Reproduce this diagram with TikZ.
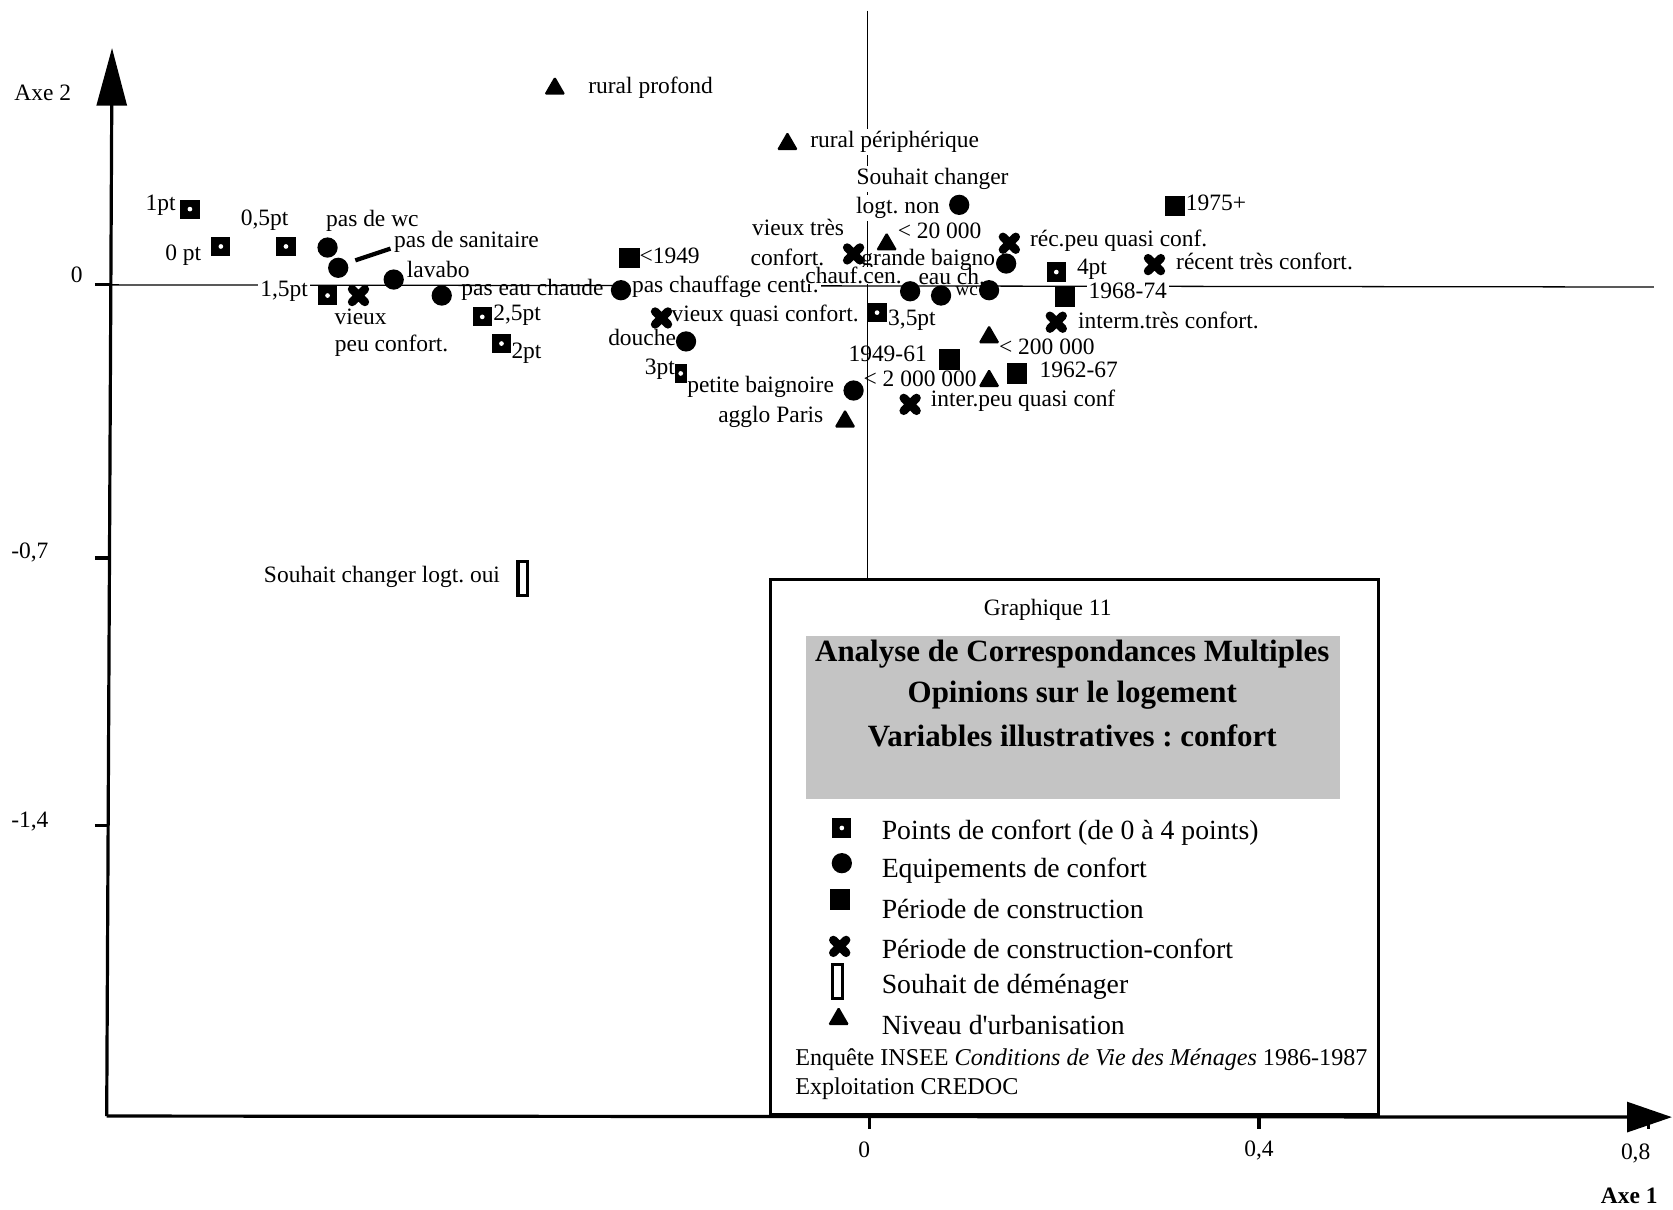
\documentclass[tikz,border=0pt]{standalone}
\usepackage{fontspec}
\setmainfont{Liberation Serif}
\usetikzlibrary{arrows.meta,shapes.geometric}
\frenchspacing
\newcommand\xmk[2]{\node[xnode] (#1) at (#2) {};
  \draw[xline] (#1.north west) -- (#1.south east) (#1.north east) -- (#1.south west);}
\begin{document}
\begin{tikzpicture}[x=0.5pt,y=-0.5pt,
  lab/.style={font=\fontsize{11}{12}\selectfont, inner sep=0pt},
  wlab/.style={lab, fill=white, inner sep=1pt},
  smalllab/.style={font=\fontsize{9}{10}\selectfont, inner sep=0pt},
  leg/.style={font=\fontsize{13}{15}\selectfont, inner sep=0pt, anchor=west},
  ttl/.style={font=\bfseries\fontsize{14.5}{16}\selectfont, inner sep=0pt},
  foot/.style={font=\fontsize{11.3}{13}\selectfont, inner sep=0pt, anchor=west},
  axisline/.style={line width=1.5pt},
  thinline/.style={line width=0.6pt},
  dsq/.style={rectangle, fill=black, minimum size=9pt, inner sep=0pt,
     path picture={\fill[white] (path picture bounding box.center) circle (1.1pt);}},
  fsq/.style={rectangle, fill=black, minimum size=9.5pt, inner sep=0pt},
  dot/.style={circle, fill=black, minimum size=9.5pt, inner sep=0pt},
  tri/.style={regular polygon, regular polygon sides=3, fill=black, minimum size=11.5pt, inner sep=0pt, rounded corners=0.8pt},
  orect/.style={rectangle, draw=black, line width=1.6pt, minimum width=4.5pt, minimum height=16pt, inner sep=0pt},
  xnode/.style={rectangle, minimum size=5.6pt, inner sep=0pt},
  xline/.style={line width=4pt, line cap=round},
  legbox/.style={draw=black, line width=1.5pt, fill=white, minimum width=285pt, minimum height=251pt, inner sep=0pt},
  ttlbg/.style={fill=black!23, minimum width=250.5pt, minimum height=76.5pt, inner sep=0pt}
]
\useasboundingbox (0,0) rectangle (1568,1134);

% thin crosshair
\coordinate (hL) at (104,267); \coordinate (hR) at (1550,269);
\coordinate (vT) at (813,10); \coordinate (vB) at (813,543);
\draw[thinline] (hL) -- (hR);
\draw[thinline] (vT) -- (vB);

% legend box
\node[legbox] (box) at (1007,794) {};
\node[ttlbg] (tbg) at (1005.5,672.5) {};
\node[lab] (g11) at (982,572) {Graphique 11};
\node[ttl] (t1) at (1005,613) {Analyse de Correspondances Multiples};
\node[ttl] (t2) at (1005,652) {Opinions sur le logement};
\node[ttl] (t3) at (1005,690) {Variables illustratives : confort};

\node[dsq] (k1) at (789,776) {};
\node[dot] (k2) at (789,809) {};
\node[fsq] (k3) at (787,843) {};
\xmk{k4}{787,887}
\node[orect] (k5) at (785,920) {};
\node[tri] (k6) at (786,955) {};
\node[leg] (k1t) at (826,780) {Points de confort (de 0 à 4 points)};
\node[leg] (k2t) at (826,816) {Equipements de confort};
\node[leg] (k3t) at (826,852) {Période de construction};
\node[leg] (k4t) at (826,889) {Période de construction-confort};
\node[leg] (k5t) at (826,925) {Souhait de déménager};
\node[leg] (k6t) at (826,961) {Niveau d\textquotesingle urbanisation};
\node[foot] (f1) at (745,993) {Enquête INSEE \textit{Conditions de Vie des Ménages} 1986-1987};
\node[foot] (f2) at (745,1020) {Exploitation CREDOC};

% axes
\coordinate (O) at (100,1046);
\coordinate (Ytip) at (105,45);
\coordinate (Xtip) at (1567,1047);
\draw[axisline, -{Triangle[length=27pt,width=14pt]}] (O) -- (Ytip);
\draw[axisline, -{Triangle[length=21pt,width=14pt]}] (O) -- (Xtip);
\draw[axisline] (89,267) -- (103,267);
\draw[axisline] (89,523) -- (102,523);
\draw[axisline] (89,774) -- (101,774);
\draw[axisline] (815,1046) -- (815,1058);
\draw[axisline] (1180,1046) -- (1180,1058);
\draw[axisline] (1545,1046) -- (1545,1058);
\node[lab] (y0) at (72,258) {0};
\node[lab] (y07) at (28,518) {-0,7};
\node[lab] (y14) at (28,770) {-1,4};
\node[lab] (ax2) at (40,87) {Axe 2};
\node[lab] (x0) at (810,1078) {0};
\node[lab] (x04) at (1180,1078) {0,4};
\node[lab] (x08) at (1533,1081) {0,8};
\node[lab, font=\bfseries\fontsize{11}{12}\selectfont] (ax1) at (1527,1121) {Axe 1};

% labels: points de confort
\node[lab, anchor=east] (l1pt) at (165,192) {1pt};
\node[lab, anchor=east] (l0pt) at (189,239) {0 pt};
\node[lab] (l05pt) at (248,206) {0,5pt};
\node[wlab, anchor=east] (l15pt) at (291,273) {1,5pt};
\node[lab, anchor=west] (l25pt) at (462,295) {2,5pt};
\node[lab, anchor=west] (l2pt) at (479,331) {2pt};
\node[lab, anchor=east] (l3pt) at (633,346) {3pt};
\node[lab, anchor=west] (l35pt) at (832,300) {3,5pt};
\node[lab, anchor=west] (l4pt) at (1009,252) {4pt};

% labels: equipements
\node[lab] (lwc0) at (349,207) {pas de wc};
\node[lab, anchor=west] (lsan) at (369,227) {pas de sanitaire};
\node[lab, anchor=west] (llav) at (381,253) {lavabo};
\node[lab, anchor=west] (leauc) at (432,272) {pas eau chaude};
\node[wlab, anchor=west] (lchauf) at (590,269) {pas chauffage centr.};
\node[lab, anchor=east] (ldouche) at (634,316) {douche};
\node[lab, anchor=east] (lpetb) at (782,363) {petite baignoire};
\node[wlab] (lsouh1) at (874,168) {Souhait changer};
\node[wlab, anchor=west] (lsouh2) at (800,195) {logt. non};
\node[lab, anchor=west] (lgrb) at (807,244) {grande baigno};
\node[lab, fill=white] (lccen) at (800,258) {chauf.cen.};
\node[lab] (leauch) at (892,259) {eau ch.};
\node[smalllab] (lwc) at (906,273) {wc};

% labels: periode
\node[lab, anchor=west] (l1949) at (599,240) {<1949};
\node[lab, anchor=west] (l1975) at (1111,190) {1975+};
\node[wlab, anchor=west] (l1968) at (1018,273) {1968-74};
\node[lab, anchor=east] (l1961) at (869,332) {1949-61};
\node[lab, anchor=west] (l1962) at (974,347) {1962-67};

% labels: periode-confort
\node[lab] (lvp1) at (338,297) {vieux};
\node[lab] (lvp2) at (367,324) {peu confort.};
\node[lab, anchor=west] (lvq) at (629,296) {vieux quasi confort.};
\node[lab] (lvt1) at (748,213) {vieux très};
\node[lab] (lvt2) at (738,241) {confort.};
\node[lab, anchor=west] (lrpq) at (965,226) {réc.peu quasi conf.};
\node[lab, anchor=west] (lrtc) at (1102,245) {récent très confort.};
\node[lab, anchor=west] (litc) at (1010,300) {interm.très confort.};
\node[lab, anchor=west] (lipq) at (872,376) {inter.peu quasi conf};

% labels: souhait / urbanisation
\node[lab, anchor=east] (loui) at (469,541) {Souhait changer logt. oui};
\node[lab, anchor=west] (lrprof) at (551,82) {rural profond};
\node[wlab, anchor=west] (lrper) at (757,133) {rural périphérique};
\node[lab, anchor=west] (l20k) at (841,216) {< 20 000};
\node[lab, anchor=west] (l200k) at (936,325) {< 200 000};
\node[lab, anchor=west] (l2m) at (809,355) {< 2 000 000};
\node[lab, anchor=east] (lagglo) at (772,391) {agglo Paris};

% connector pas de sanitaire
\coordinate (sanA) at (333,244);
\coordinate (sanB) at (366,233);
\draw[line width=2pt] (sanA) -- (sanB);

% markers: points de confort
\node[dsq] (m1pt) at (178,196) {};
\node[dsq] (m0pt) at (207,231) {};
\node[dsq] (m05pt) at (268,231) {};
\node[dsq] (m15pt) at (307,277) {};
\node[dsq] (m25pt) at (452,297) {};
\node[dsq] (m2pt) at (470,322) {};
\node[dsq, minimum width=5.5pt, minimum height=9pt] (m3pt) at (638,350) {};
\node[dsq] (m35pt) at (822,293) {};
\node[dsq] (m4pt) at (990,255) {};

% markers: equipements
\node[dot] (mwc0) at (307,232) {};
\node[dot] (msan) at (317,251) {};
\node[dot] (mlav) at (369,262) {};
\node[dot] (meauc) at (414,277) {};
\node[dot] (mchauf) at (582,272) {};
\node[dot] (mdouche) at (643,320) {};
\node[dot] (mpetb) at (800,366) {};
\node[dot] (msouh) at (899,192) {};
\node[dot] (mgrb) at (943,247) {};
\node[dot] (mccen) at (853,273) {};
\node[dot] (meauch) at (882,277) {};
\node[dot] (mwc) at (927,272) {};

% markers: periode
\node[fsq] (m1949) at (590,242) {};
\node[fsq] (m1975) at (1101,193) {};
\node[fsq] (m1968) at (998,278) {};
\node[fsq] (m1961) at (890,337) {};
\node[fsq] (m1962) at (953,350) {};

% markers: periode-confort
\xmk{mvp}{336,277}
\xmk{mvq}{620,298}
\xmk{mvt}{800,238}
\xmk{mrpq}{946,228}
\xmk{mrtc}{1082,248}
\xmk{mitc}{990,302}
\xmk{mipq}{853,379}

% markers: souhait / urbanisation
\node[orect] (moui) at (490,542) {};
\node[tri] (mrprof) at (520,83) {};
\node[tri] (mrper) at (738,135) {};
\node[tri] (m20k) at (831,229) {};
\node[tri] (m200k) at (927,316) {};
\node[tri] (m2m) at (927,357) {};
\node[tri] (magglo) at (792,395) {};
\end{tikzpicture}
\end{document}
